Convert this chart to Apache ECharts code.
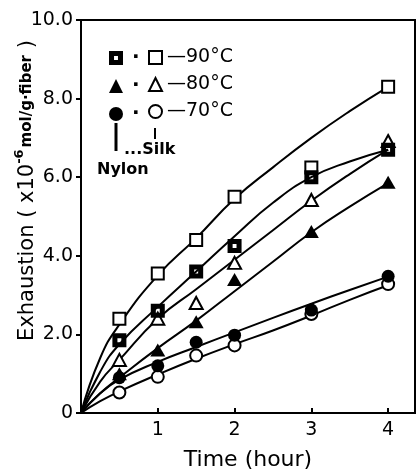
<!DOCTYPE html>
<html>
<head>
<meta charset="utf-8">
<script src="https://cdn.jsdelivr.net/npm/echarts@6/dist/echarts.min.js"></script>
<style>
  html, body { margin: 0; padding: 0; background: #fff; }
  #chart { width: 416px; height: 474px; }
</style>
</head>
<body>
<div id="chart"></div>
<script>
// measured points: [time (hour), exhaustion x10^-6 mol/g fiber]
const silk90 = [[0.5, 2.4], [1, 3.55], [1.5, 4.4], [2, 5.5], [3, 6.25], [4, 8.3]];
const nylon90 = [[0.5, 1.85], [1, 2.6], [1.5, 3.6], [2, 4.25], [3, 6.0], [4, 6.7]];
const silk80 = [[0.5, 1.35], [1, 2.4], [1.5, 2.8], [2, 3.82], [3, 5.42], [4, 6.92]];
const nylon80 = [[0.5, 1.0], [1, 1.6], [1.5, 2.32], [2, 3.4], [3, 4.62], [4, 5.87]];
const nylon70 = [[0.5, 0.9], [1, 1.2], [1.5, 1.8], [2, 1.98], [3, 2.62], [4, 3.48]];
const silk70 = [[0.5, 0.52], [1, 0.92], [1.5, 1.46], [2, 1.72], [3, 2.52], [4, 3.28]];

// hand drawn curves at these times
const curveTimes = [0, 0.25, 0.5, 1, 1.5, 2, 2.5, 3, 3.5, 4];
const curveSilk90 = [0, 1.4, 2.25, 3.5, 4.45, 5.45, 6.25, 7.0, 7.68, 8.3];
const curveNylon90 = [0, 1.05, 1.75, 2.7, 3.6, 4.5, 5.35, 6.0, 6.4, 6.7];
const curveSilk80 = [0, 0.8, 1.35, 2.4, 3.15, 3.9, 4.65, 5.4, 6.08, 6.7];
const curveNylon80 = [0, 0.5, 0.9, 1.65, 2.35, 3.1, 3.85, 4.6, 5.25, 5.85];
const curveNylon70 = [0, 0.5, 0.85, 1.3, 1.68, 2.05, 2.42, 2.78, 3.13, 3.47];
const curveSilk70 = [0, 0.3, 0.55, 0.98, 1.38, 1.75, 2.1, 2.48, 2.88, 3.25];

const xTicks = [1, 2, 3, 4];
const yTicks = [0, 2, 4, 6, 8, 10];

const font = "DejaVu Sans";
// filled square with a small white centre
const dotSquare = "path://M0,0H10V10H0Z M3.6,3.6V6.4H6.4V3.6Z";

const pair = (xs, ys) => xs.map((x, i) => [x, ys[i]]);

const curve = (name, ys) => ({
  name: name,
  type: "line",
  data: pair(curveTimes, ys),
  smooth: 0.5,
  symbol: "none",
  silent: true,
  lineStyle: { color: "#000", width: 2 },
  z: 2,
});

const openPts = (name, data, symbol, size) => ({
  name: name,
  type: "scatter",
  data: data,
  symbol: symbol,
  symbolSize: size,
  itemStyle: { color: "#fff", borderColor: "#000", borderWidth: 2, opacity: 1 },
  z: 3,
});

const filledPts = (name, data, symbol, size) => ({
  name: name,
  type: "scatter",
  data: data,
  symbol: symbol,
  symbolSize: size,
  itemStyle: { color: "#000", opacity: 1 },
  z: 4,
});

let myChart = echarts.init(document.getElementById("chart"));
myChart.setOption({
  animation: false,
  backgroundColor: "#fff",
  textStyle: { fontFamily: font, color: "#000" },
  grid: {
    left: 81,
    top: 20,
    right: 1,
    bottom: 61,
    containLabel: false,
    outerBoundsMode: "none",
    show: true,
    borderColor: "#000",
    borderWidth: 2,
  },
  legend: [
    {
      data: ["Nylon 90°C", "Nylon 80°C", "Nylon 70°C"],
      orient: "vertical",
      left: 109,
      top: 48,
      padding: 0,
      itemWidth: 14,
      itemHeight: 14,
      itemGap: 8,
      selectedMode: false,
      formatter: () => "·",
      textStyle: { fontSize: 20, fontWeight: "bold", color: "#000", padding: [0, 0, 0, 4] },
    },
    {
      data: ["Silk 90°C", "Silk 80°C", "Silk 70°C"],
      orient: "vertical",
      left: 148,
      top: 48,
      padding: 0,
      itemWidth: 13,
      itemHeight: 13,
      itemGap: 8,
      selectedMode: false,
      formatter: (name) => "—" + name.split(" ")[1],
      textStyle: { fontSize: 19, color: "#000" },
    },
  ],
  graphic: [
    { type: "line", shape: { x1: 116, y1: 123, x2: 116, y2: 151 }, style: { stroke: "#000", lineWidth: 3 } },
    { type: "line", shape: { x1: 155, y1: 128, x2: 155, y2: 139 }, style: { stroke: "#000", lineWidth: 2 } },
    { type: "text", left: 124, top: 142, style: { text: "...Silk", font: "bold 16px " + font, fill: "#000" } },
    { type: "text", left: 97, top: 162, style: { text: "Nylon", font: "bold 16px " + font, fill: "#000" } },
  ],
  xAxis: {
    type: "value",
    min: 0,
    max: 4.35,
    interval: 1,
    name: "Time (hour)",
    nameLocation: "middle",
    nameGap: 36,
    nameTextStyle: { fontSize: 22, color: "#000", fontFamily: font },
    axisLine: { lineStyle: { color: "#000", width: 2 } },
    axisTick: { inside: true, length: 5, customValues: xTicks, lineStyle: { color: "#000", width: 2 } },
    axisLabel: { customValues: xTicks, fontSize: 19, color: "#000", margin: 8 },
    splitLine: { show: false },
  },
  yAxis: {
    type: "value",
    min: 0,
    max: 10,
    interval: 2,
    name: "{m|Exhaustion ( x10}{sup|-6}{unit|mol/g·fiber}{m| )}",
    nameLocation: "middle",
    nameGap: 43,
    nameMoveOverlap: false,
    nameTextStyle: {
      color: "#000",
      padding: [0, 0, 0, 52],
      rich: {
        m: { fontSize: 21, fontFamily: font, lineHeight: 25, verticalAlign: "bottom" },
        sup: { fontSize: 13, fontFamily: font, fontWeight: "bold", verticalAlign: "top" },
        unit: { fontSize: 15, fontFamily: font, fontWeight: "bold", verticalAlign: "bottom", padding: [0, 0, 3, 2] },
      },
    },
    axisLine: { lineStyle: { color: "#000", width: 2 } },
    axisTick: { inside: false, length: 5, customValues: yTicks, lineStyle: { color: "#000", width: 2 } },
    axisLabel: {
      customValues: yTicks,
      fontSize: 19,
      color: "#000",
      margin: 8,
      formatter: (v) => (v === 0 ? "0" : v.toFixed(1)),
    },
    splitLine: { show: false },
  },
  series: [
    curve("fit Silk 90", curveSilk90),
    curve("fit Nylon 90", curveNylon90),
    curve("fit Silk 80", curveSilk80),
    curve("fit Nylon 80", curveNylon80),
    curve("fit Nylon 70", curveNylon70),
    curve("fit Silk 70", curveSilk70),
    openPts("Silk 90°C", silk90, "rect", 12),
    openPts("Silk 80°C", silk80, "triangle", [13, 12]),
    openPts("Silk 70°C", silk70, "circle", 12),
    filledPts("Nylon 90°C", nylon90, dotSquare, 14),
    filledPts("Nylon 80°C", nylon80, "triangle", [15, 13]),
    filledPts("Nylon 70°C", nylon70, "circle", 13),
  ],
});
</script>
</body>
</html>
